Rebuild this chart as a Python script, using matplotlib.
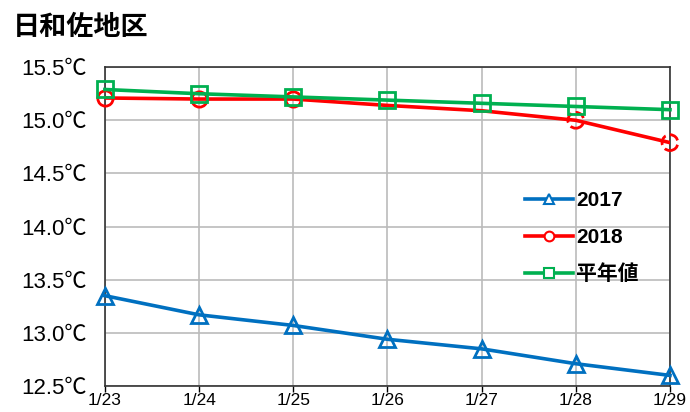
import matplotlib
matplotlib.use("Agg")
import matplotlib.pyplot as plt

plt.rcParams['font.family'] = ['Liberation Sans', 'Noto Sans CJK JP', 'DejaVu Sans']

dates = ['1/23', '1/24', '1/25', '1/26', '1/27', '1/28', '1/29']
t2017 = [13.35, 13.17, 13.07, 12.94, 12.85, 12.71, 12.60]
t2018 = [15.21, 15.20, 15.20, 15.14, 15.09, 15.00, 14.79]
normal = [15.29, 15.25, 15.22, 15.19, 15.16, 15.13, 15.10]
solid_idx = [0, 1, 2]     # 2018 points with solid circle markers
dashed_idx = [5, 6]       # 2018 points with dashed circle markers
yticks = [12.5, 13.0, 13.5, 14.0, 14.5, 15.0, 15.5]

blue = '#0070C0'
red = '#FF0000'
green = '#00B050'

fig = plt.figure(figsize=(6.9, 4.12), dpi=100)
ax = fig.add_axes((0.152, 0.063, 0.819, 0.774))
x = list(range(len(dates)))

ax.plot(x, t2017, color=blue, lw=2.6, marker='^', ms=12, mfc='none',
        mec=blue, mew=2, clip_on=False, zorder=3)
ax.plot(x, t2018, color=red, lw=2.6, zorder=3)
ax.plot([x[i] for i in solid_idx], [t2018[i] for i in solid_idx], lw=0,
        marker='o', ms=11, mfc='none', mec=red, mew=2, zorder=3, clip_on=False)
ax.scatter([x[i] for i in dashed_idx], [t2018[i] for i in dashed_idx], s=130,
           facecolors='none', edgecolors=red, linewidths=2, linestyle='--',
           zorder=3, clip_on=False)
ax.plot(x, normal, color=green, lw=2.6, marker='s', ms=12, mfc='none',
        mec=green, mew=2, zorder=4, clip_on=False)

h17 = plt.Line2D([], [], color=blue, lw=2.6, marker='^', ms=7, mfc='white', mec=blue, mew=1.5)
h18 = plt.Line2D([], [], color=red, lw=2.6, marker='o', ms=7, mfc='white', mec=red, mew=1.5)
hn = plt.Line2D([], [], color=green, lw=2.6, marker='s', ms=7, mfc='white', mec=green, mew=1.5)
ax.legend([h17, h18, hn], ['2017', '2018', '平年値'], loc='upper left',
          bbox_to_anchor=(0.71, 0.67), frameon=False,
          handlelength=2.3, handletextpad=0.15, labelspacing=0.85,
          prop={'weight': 'bold', 'size': 15})

ax.set_xlim(0, len(dates) - 1)
ax.set_ylim(12.5, 15.5)
ax.set_xticks(x)
ax.set_xticklabels(dates, fontsize=12.5)
ax.set_yticks(yticks)
ax.set_yticklabels(['%.1f℃' % v for v in yticks], fontsize=16)
ax.grid(True, color='#BBBBBB', lw=1.2)
ax.set_axisbelow(True)
for s in ax.spines.values():
    s.set_color('#333333')
    s.set_linewidth(1.2)
ax.tick_params(axis='x', length=4, width=1, pad=1)
ax.tick_params(axis='y', length=0, pad=13)

fig.text(0.018, 0.932, '日和佐地区', fontsize=19.5, fontweight='bold', va='center')

fig.savefig('out.png', dpi=100)
